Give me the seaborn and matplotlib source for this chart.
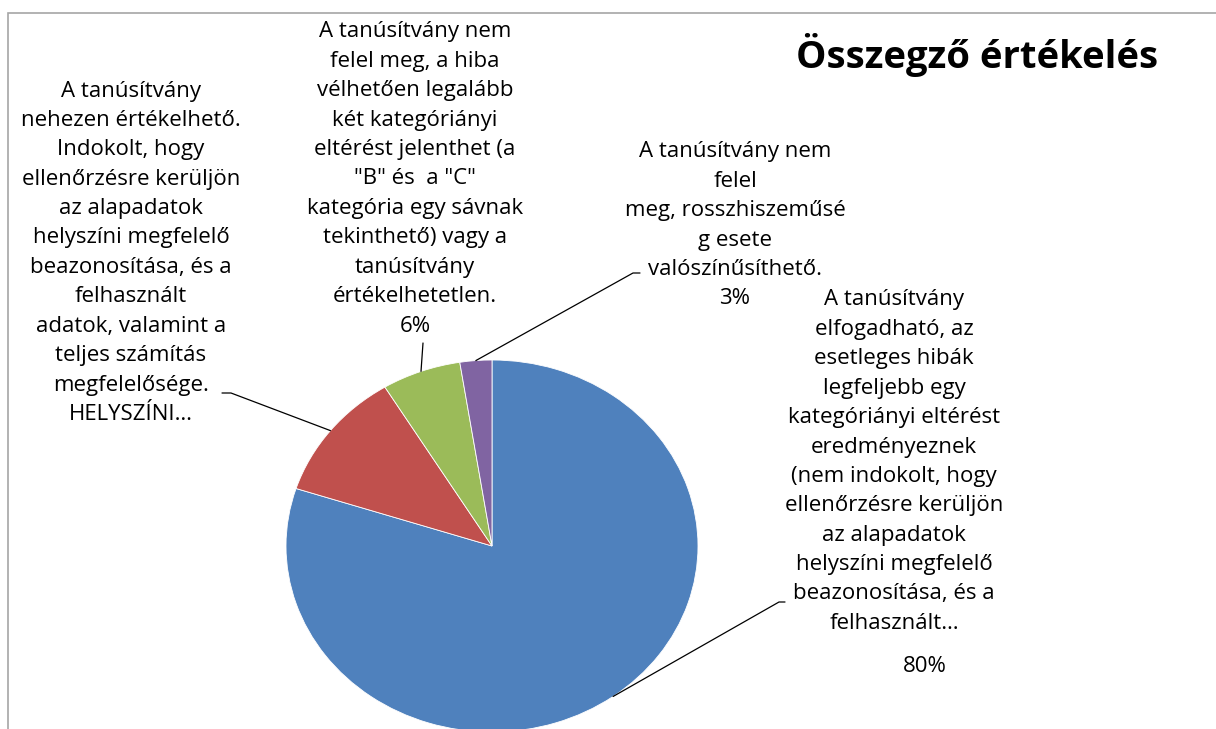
import numpy as np
import pandas as pd
import seaborn as sns
import matplotlib.pyplot as plt
from matplotlib.patches import Rectangle

#data
labels = [
    "A tanúsítvány\nelfogadható, az\nesetleges hibák\nlegfeljebb egy\nkategóriányi eltérést\neredményeznek\n(nem indokolt, hogy\nellenőrzésre kerüljön\naz alapadatok\nhelyszíni megfelelő\nbeazonosítása, és a\nfelhasznált…",
    "A tanúsítvány\nnehezen értékelhető.\nIndokolt, hogy\nellenőrzésre kerüljön\naz alapadatok\nhelyszíni megfelelő\nbeazonosítása, és a\nfelhasznált\nadatok, valamint a\nteljes számítás\nmegfelelősége.\nHELYSZÍNI…",
    "A tanúsítvány nem\nfelel meg, a hiba\nvélhetően legalább\nkét kategóriányi\neltérést jelenthet (a\n\"B\" és  a \"C\"\nkategória egy sávnak\ntekinthető) vagy a\ntanúsítvány\nértékelhetetlen.",
    "A tanúsítvány nem\nfelel\nmeg, rosszhiszeműsé\ng esete\nvalószínűsíthető.",
]
values = [80.0, 11.3, 6.2, 2.5]
pct_labels = ["80%", "", "6%", "3%"]
colors = ["#4F81BD", "#C0504D", "#9BBB59", "#8064A2"]
title = "Összegző értékelés"

sns.set_style("white")
plt.rcParams['font.family'] = ['Open Sans', 'DejaVu Sans']

W, H = 1216, 729
fig = plt.figure(figsize=(W / 100, H / 100), dpi=100)
ax = fig.add_axes([0, 0, 1, 1])
ax.axis("off")

#pie, stretched horizontally like the original
cx, cy, rx, ry = 492, 546, 206, 186
wedges, _ = ax.pie(values, colors=colors, startangle=90, counterclock=False,
                   radius=1, center=(0, 0), wedgeprops=dict(linewidth=0.6, edgecolor="white"))
ax.set_aspect("auto")
ax.set_xlim(-cx / rx, (W - cx) / rx)
ax.set_ylim(-(H - cy) / ry, cy / ry)

def px(x, y):
    # pixel (from top-left) -> data coords
    return ax.transData.inverted().transform((x, H - y))

def ftext(x, y, s, **kw):
    fig.text(x / W, 1 - y / H, s, ha="center", va="center", **kw)

#label blocks: centre x, first line y
label_pos = [(894, 300), (131, 91), (415, 32), (735, 152)]
line_gap = 29.4
fs = 16
for lab, pct, (lx, ly) in zip(labels, pct_labels, label_pos):
    lines = lab.split("\n")
    if pct and pct != "80%":
        lines.append(pct)
    for i, line in enumerate(lines):
        ftext(lx, ly + i * line_gap, line, fontsize=fs, color="black")
ftext(925, 666, pct_labels[0], fontsize=fs, color="black")

#leader lines to mid-angle of each wedge
label_ends = [[(785, 602), (779, 602)],
              [(222, 393), (231, 393)],
              [(423, 343)],
              [(640, 273), (633, 273)]]
for w, pts in zip(wedges, label_ends):
    mid = np.deg2rad((w.theta1 + w.theta2) / 2)
    edge = (np.cos(mid), np.sin(mid))
    xy = [px(*p) for p in pts] + [edge]
    xy = np.array(xy)
    ax.plot(xy[:, 0], xy[:, 1], color="black", lw=0.9, clip_on=False)

#title
ftext(977, 55, title, fontsize=27.5, fontweight="bold", color="black")

#chart frame
fig.patches.append(Rectangle((8 / W, -0.05), 1.1, 1 - 13 / H + 0.05, transform=fig.transFigure,
                             fill=False, edgecolor="#A6A6A6", lw=1.2))

plt.savefig("out.png", dpi=100)
